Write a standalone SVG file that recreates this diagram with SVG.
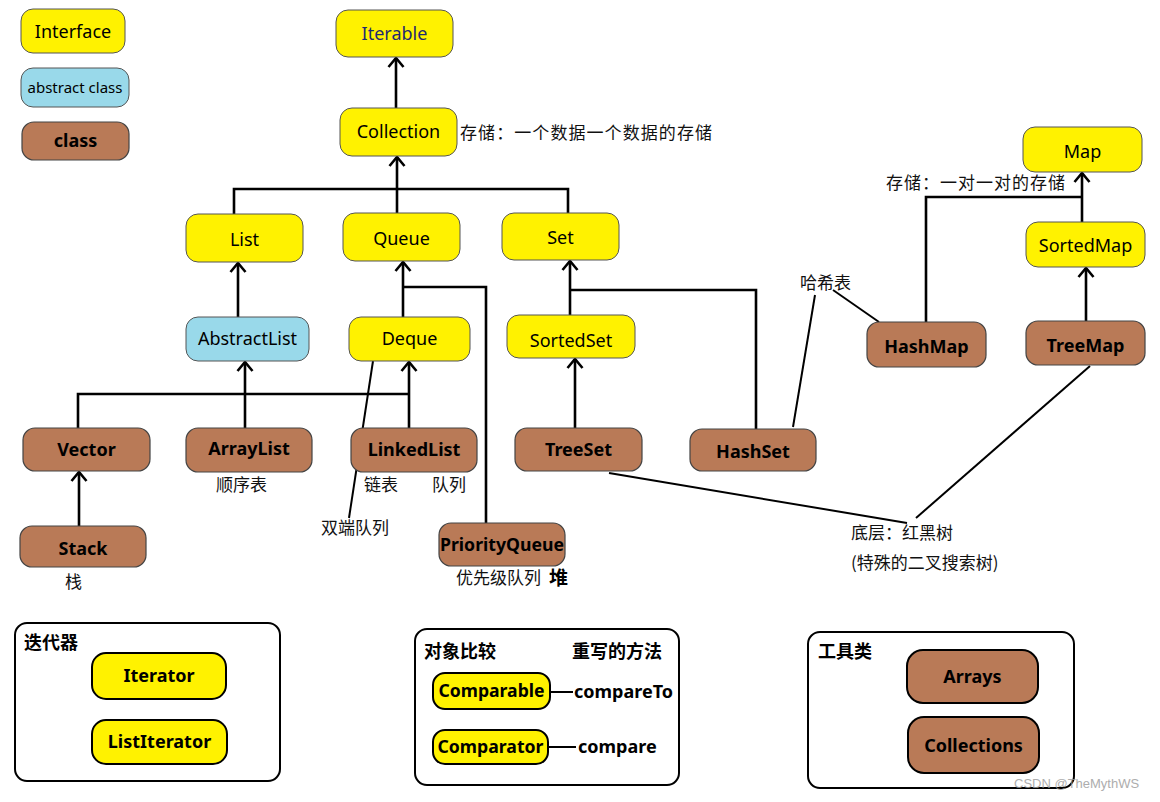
<svg xmlns="http://www.w3.org/2000/svg" width="1160" height="802" viewBox="0 0 1160 802">
<style>
.t{font-family:"Noto Sans","Noto Sans CJK SC",sans-serif;font-size:18px;fill:#000;text-anchor:middle}
.b{font-weight:bold}
.cn{font-family:"Noto Sans CJK SC","Noto Sans",sans-serif;font-size:17px;fill:#111}
.cb{font-family:"Noto Sans CJK SC","Noto Sans",sans-serif;font-size:18px;font-weight:bold;fill:#000}
.y{fill:#fff200;stroke:#555;stroke-width:1}
.a{fill:#99d9ea;stroke:#555;stroke-width:1}
.c{fill:#b97a57;stroke:#444;stroke-width:1.2}
.yk{fill:#fff200;stroke:#000;stroke-width:2}
.ck{fill:#b97a57;stroke:#000;stroke-width:2}
.frame{fill:none;stroke:#000;stroke-width:2}
.ln{fill:none;stroke:#000;stroke-width:2.6}
.thin{fill:none;stroke:#000;stroke-width:2}
</style>
<defs>
<marker id="arr" viewBox="0 0 12 18" refX="10.5" refY="9" markerWidth="12" markerHeight="18" markerUnits="userSpaceOnUse" orient="auto">
<path d="M1.5,1.5 L10.5,9 L1.5,16.5" fill="none" stroke="#000" stroke-width="2.6"/>
</marker>
</defs>
<rect width="1160" height="802" fill="#fff"/>

<g id="iterator-panel">
<rect class="frame" x="15" y="623" width="265" height="158" rx="12"/>
<text class="cb" x="24" y="649">迭代器</text>
</g>
<g id="compare-panel">
<rect class="frame" x="415" y="629" width="264" height="156" rx="12"/>
<text class="cb" x="424" y="658">对象比较</text>
<text class="cb" x="572" y="658">重写的方法</text>
<text class="t b" x="574" y="698" style="text-anchor:start">compareTo</text>
<text class="t b" x="578" y="753" style="text-anchor:start">compare</text>
</g>
<g id="tools-panel">
<rect class="frame" x="808" y="632" width="266" height="156" rx="12"/>
<text class="cb" x="818" y="658">工具类</text>
</g>

<g id="connectors">
<line class="ln" x1="396" y1="108" x2="396" y2="58" marker-end="url(#arr)"/>
<line class="ln" x1="397" y1="189" x2="397" y2="157" marker-end="url(#arr)"/>
<polyline class="ln" points="234,214 234,189 568,189 568,213"/>
<line class="ln" x1="397" y1="189" x2="397" y2="213"/>
<line class="ln" x1="238" y1="317" x2="238" y2="263" marker-end="url(#arr)"/>
<line class="ln" x1="403" y1="317" x2="403" y2="262" marker-end="url(#arr)"/>
<polyline class="ln" points="403,287 486,287 486,523"/>
<line class="ln" x1="570" y1="315" x2="570" y2="261" marker-end="url(#arr)"/>
<polyline class="ln" points="570,290 756,290 756,429"/>
<line class="ln" x1="575" y1="428" x2="575" y2="359" marker-end="url(#arr)"/>
<polyline class="ln" points="78,428 78,394 409,394"/>
<line class="ln" x1="245" y1="428" x2="245" y2="362" marker-end="url(#arr)"/>
<line class="ln" x1="409" y1="428" x2="409" y2="362" marker-end="url(#arr)"/>
<line class="ln" x1="79" y1="526" x2="79" y2="472" marker-end="url(#arr)"/>
<line class="thin" x1="373" y1="361" x2="349" y2="518"/>
<line class="thin" x1="815" y1="295" x2="793" y2="427"/>
<line class="thin" x1="833" y1="290" x2="879" y2="322"/>
<polyline class="ln" points="926,322 926,197 1082,197"/>
<line class="ln" x1="1082" y1="222" x2="1082" y2="173" marker-end="url(#arr)"/>
<line class="ln" x1="1086" y1="321" x2="1086" y2="268" marker-end="url(#arr)"/>
<line class="thin" x1="1090" y1="366" x2="916" y2="518"/>
<line class="thin" x1="609" y1="473" x2="907" y2="523"/>
<line class="thin" x1="550" y1="692" x2="573" y2="692"/>
<line class="thin" x1="548" y1="747" x2="576" y2="747"/>
</g>

<g id="legend-interface"><rect class="y" x="21" y="9" width="104" height="44" rx="12"/><text class="t" x="73" y="38">Interface</text></g>
<g id="legend-abstract"><rect class="a" x="21" y="68" width="108" height="39" rx="12"/><text class="t" x="75" y="93" style="font-size:15px">abstract class</text></g>
<g id="legend-class"><rect class="c" x="22" y="122" width="107" height="38" rx="12"/><text class="t b" x="75.5" y="147">class</text></g>

<g id="iterable"><rect class="y" x="336" y="10" width="117" height="47" rx="12"/><text class="t" x="394.5" y="40" style="fill:#1f2a70">Iterable</text></g>
<g id="collection"><rect class="y" x="340" y="108" width="117" height="48" rx="12"/><text class="t" x="398.5" y="138">Collection</text></g>
<g id="list"><rect class="y" x="186" y="214" width="117" height="48" rx="12"/><text class="t" x="244.5" y="246">List</text></g>
<g id="queue"><rect class="y" x="343" y="213" width="117" height="48" rx="12"/><text class="t" x="401.5" y="245">Queue</text></g>
<g id="set"><rect class="y" x="502" y="213" width="117" height="47" rx="12"/><text class="t" x="560.5" y="244">Set</text></g>
<g id="abstractlist"><rect class="a" x="186" y="317" width="123" height="44" rx="12"/><text class="t" x="247.5" y="345">AbstractList</text></g>
<g id="deque"><rect class="y" x="349" y="317" width="121" height="44" rx="12"/><text class="t" x="409.5" y="345">Deque</text></g>
<g id="sortedset"><rect class="y" x="507" y="315" width="128" height="43" rx="12"/><text class="t" x="571" y="347">SortedSet</text></g>
<g id="map"><rect class="y" x="1023" y="127" width="119" height="45" rx="12"/><text class="t" x="1082.5" y="158">Map</text></g>
<g id="sortedmap"><rect class="y" x="1026" y="222" width="119" height="45" rx="12"/><text class="t" x="1085.5" y="252">SortedMap</text></g>

<g id="vector"><rect class="c" x="23" y="428" width="127" height="43" rx="12"/><text class="t b" x="86.5" y="456">Vector</text></g>
<g id="arraylist"><rect class="c" x="186" y="428" width="126" height="44" rx="12"/><text class="t b" x="249" y="455">ArrayList</text></g>
<g id="linkedlist"><rect class="c" x="351" y="428" width="126" height="44" rx="12"/><text class="t b" x="414" y="456">LinkedList</text></g>
<g id="treeset"><rect class="c" x="515" y="428" width="127" height="43" rx="12"/><text class="t b" x="578.5" y="456">TreeSet</text></g>
<g id="hashset"><rect class="c" x="690" y="429" width="126" height="42" rx="12"/><text class="t b" x="753" y="458">HashSet</text></g>
<g id="hashmap"><rect class="c" x="867" y="322" width="119" height="45" rx="12"/><text class="t b" x="926.5" y="353">HashMap</text></g>
<g id="treemap"><rect class="c" x="1026" y="321" width="119" height="44" rx="12"/><text class="t b" x="1085.5" y="352">TreeMap</text></g>
<g id="stack"><rect class="c" x="20" y="526" width="126" height="41" rx="12"/><text class="t b" x="83" y="555">Stack</text></g>
<g id="priorityqueue"><rect class="c" x="439" y="523" width="126" height="43" rx="12"/><text class="t b" x="502" y="551" textLength="124" lengthAdjust="spacingAndGlyphs">PriorityQueue</text></g>

<g id="labels">
<text class="cn" x="460" y="139" textLength="252">存储：一个数据一个数据的存储</text>
<text class="cn" x="886" y="189" textLength="179">存储：一对一对的存储</text>
<text class="cn" x="800" y="289">哈希表</text>
<text class="cn" x="216" y="491">顺序表</text>
<text class="cn" x="364" y="491">链表</text>
<text class="cn" x="432" y="491">队列</text>
<text class="cn" x="321" y="534">双端队列</text>
<text class="cn" x="65" y="588">栈</text>
<text class="cn" x="456" y="584">优先级队列</text>
<text class="cb" x="549" y="585" style="font-size:19px">堆</text>
<text class="cn" x="851" y="539">底层：红黑树</text>
<text class="cn" x="851" y="569">(特殊的二叉搜索树)</text>
</g>

<g id="iterator"><rect class="yk" x="92" y="653" width="134" height="46" rx="14"/><text class="t b" x="159" y="682">Iterator</text></g>
<g id="listiterator"><rect class="yk" x="92" y="720" width="135" height="44" rx="14"/><text class="t b" x="159.5" y="748">ListIterator</text></g>
<g id="comparable"><rect class="yk" x="433" y="673" width="117" height="36" rx="12"/><text class="t b" x="491.5" y="697" textLength="106" lengthAdjust="spacingAndGlyphs">Comparable</text></g>
<g id="comparator"><rect class="yk" x="433" y="730" width="115" height="34" rx="12"/><text class="t b" x="490.5" y="753" textLength="106" lengthAdjust="spacingAndGlyphs">Comparator</text></g>
<g id="arrays"><rect class="ck" x="907" y="650" width="131" height="53" rx="16"/><text class="t b" x="972.5" y="683">Arrays</text></g>
<g id="collections"><rect class="ck" x="908" y="717" width="131" height="56" rx="16"/><text class="t b" x="973.5" y="752">Collections</text></g>

<text x="1014" y="788" style="font-family:'Liberation Sans',sans-serif;font-size:13px;fill:#999;opacity:0.8">CSDN @TheMythWS</text>
</svg>
